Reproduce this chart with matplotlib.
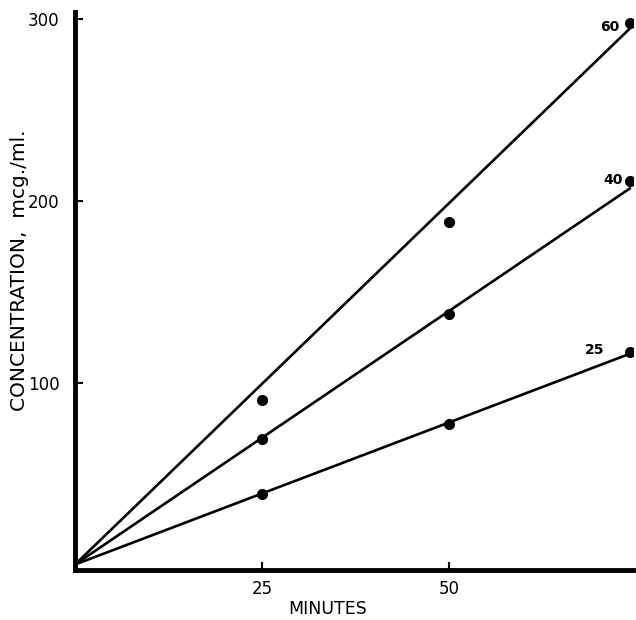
import matplotlib
matplotlib.use("Agg")
import matplotlib.pyplot as plt

# Data
minutes = [25, 50, 74.2]
series_labels = ["25", "40", "60"]
conc_25 = [39, 77.5, 117]
conc_40 = [69, 138, 211]
conc_60 = [90.5, 188.5, 298]
line_end_x = 74.2
line_end_vals = [116, 207, 295]
x_ticks = [25, 50]
y_ticks = [100, 200, 300]

fig = plt.figure(figsize=(6.36, 6.2), dpi=100)
ax = fig.add_axes([75/636, 50/620, 558/636, 558/620])

all_series = [conc_25, conc_40, conc_60]
for vals, end in zip(all_series, line_end_vals):
    ax.plot([0, line_end_x], [0, end], color="black", lw=1.9, solid_capstyle="round")
    ax.plot(minutes, vals, "o", color="black", ms=7)

label_pos = [(69.5, 118.3), (71.9, 211.6), (71.5, 295.7)]
for (x, y), t in zip(label_pos, series_labels):
    ax.text(x, y, t, fontsize=10, fontweight="bold", ha="center", va="center",
            family="DejaVu Sans")

ax.set_xlim(0, 74.6)
ax.set_ylim(-3, 304)
ax.set_xticks(x_ticks)
ax.set_yticks(y_ticks)
ax.set_xticklabels([str(t) for t in x_ticks], family="Liberation Sans Narrow", fontsize=12)
ax.set_yticklabels([str(t) for t in y_ticks], family="Liberation Sans Narrow", fontsize=12)
ax.tick_params(direction="in", length=6, width=1.5, pad=11)
ax.tick_params(axis="x", pad=7)
for s in ["top", "right"]:
    ax.spines[s].set_visible(False)
for s in ["left", "bottom"]:
    ax.spines[s].set_linewidth(3.5)

ax.set_xlabel("MINUTES", family="DejaVu Sans", fontsize=12.5, va="center")
ax.xaxis.set_label_coords(0.453, -0.069)
ax.set_ylabel("CONCENTRATION,  mcg./ml.", family="DejaVu Sans", fontsize=14.5, va="center")
ax.yaxis.set_label_coords(-0.0986, 0.538)

fig.savefig("out.png", dpi=100)
